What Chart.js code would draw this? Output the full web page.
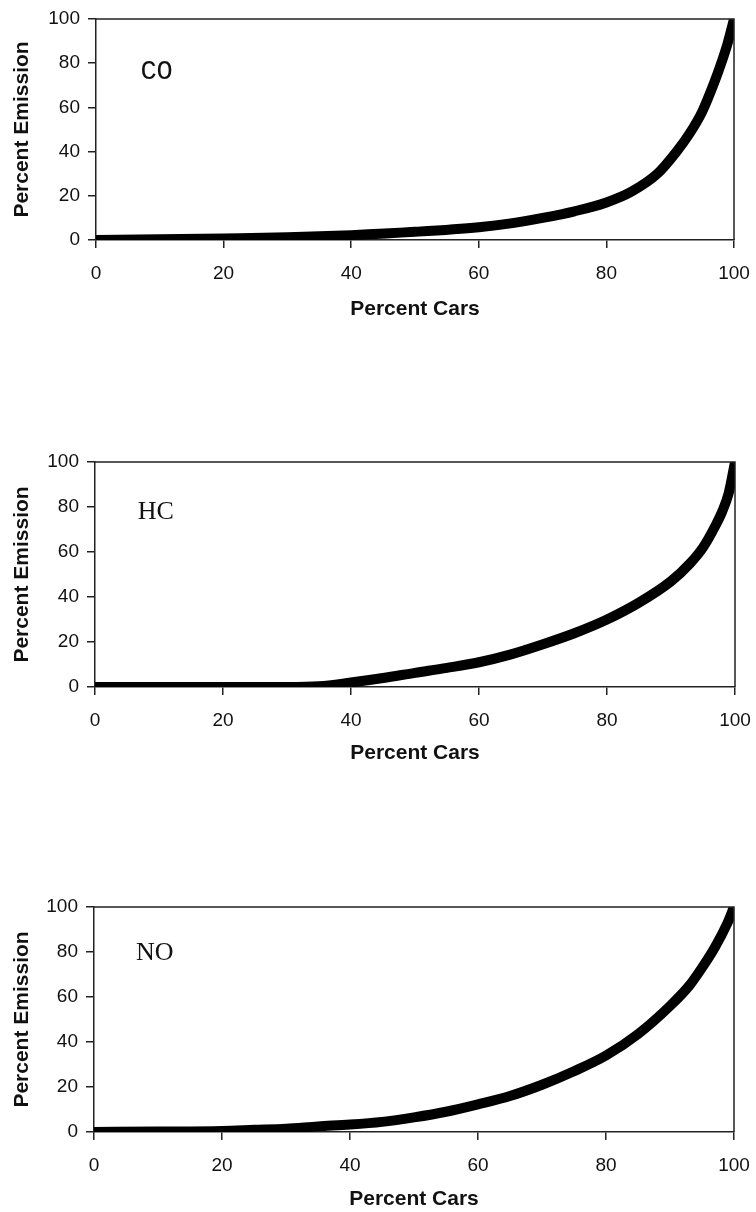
<!DOCTYPE html>
<html>
<head>
<meta charset="utf-8">
<script src="https://cdn.jsdelivr.net/npm/chart.js@4"></script>
<style>
  body { margin: 0; background: #fff; }
  .panel { position: absolute; left: 0; width: 756px; }
</style>
</head>
<body>
<div class="panel" style="top:0px;height:322px"><canvas id="chartCO"></canvas></div>
<div class="panel" style="top:440px;height:326px"><canvas id="chartHC"></canvas></div>
<div class="panel" style="top:886px;height:326px"><canvas id="chartNO"></canvas></div>
<script>
// axes
const tickValues = [0, 20, 40, 60, 80, 100];

// CO : pourcentage cumulé des émissions
const coCars = [0, 10, 20, 30, 40, 50, 60, 65, 70, 75, 80, 84, 88, 91, 93, 95, 97, 98, 99, 100];
const coEmission = [0, 0.3, 0.7, 1.2, 2.2, 3.7, 5.8, 7.5, 10, 13, 17, 22, 30, 40, 48, 58, 72, 80, 89, 100];

// HC
const hcCars = [0, 10, 20, 30, 35, 40, 45, 50, 55, 60, 65, 70, 75, 80, 85, 90, 93, 95, 97, 98, 99, 100];
const hcEmission = [0, 0, 0, 0, 0.3, 2, 4, 6.3, 8.5, 11, 14.5, 19, 24, 30, 37.5, 47, 55, 62, 72, 78, 86, 100];

// NO
const noCars = [0, 10, 20, 25, 30, 35, 40, 45, 50, 55, 60, 65, 70, 75, 80, 85, 90, 93, 95, 97, 99, 100];
const noEmission = [0, 0.2, 0.5, 1, 1.5, 2.5, 3.3, 4.5, 6.5, 9, 12.3, 16, 21, 27, 34, 43.5, 56, 65, 73, 82, 93, 100];

// cadre haut + droite et étiquette du polluant
const framePlugin = {
    id: 'frame',
    afterDraw(chart, args, opts) {
        const ctx = chart.ctx;
        const a = chart.chartArea;
        ctx.save();
        ctx.strokeStyle = '#222';
        ctx.lineWidth = 1.5;
        ctx.beginPath();
        ctx.moveTo(a.left, a.top);
        ctx.lineTo(a.right, a.top);
        ctx.lineTo(a.right, a.bottom);
        ctx.stroke();
        ctx.fillStyle = '#111';
        ctx.font = opts.font;
        ctx.textAlign = 'center';
        ctx.textBaseline = 'middle';
        ctx.fillText(opts.text, chart.scales.x.getPixelForValue(opts.x), chart.scales.y.getPixelForValue(opts.y));
        ctx.restore();
    }
};

function makeChart(id, cars, emission, gas, gasFont, gasY, pad, yWidth, xHeight) {
    const points = cars.map((c, i) => ({ x: c, y: emission[i] }));
    return new Chart(document.getElementById(id), {
        type: 'line',
        data: {
            datasets: [{
                data: points,
                borderColor: '#000',
                borderWidth: 10,
                cubicInterpolationMode: 'monotone',
                pointRadius: 0,
                fill: false
            }]
        },
        options: {
            responsive: true,
            maintainAspectRatio: false,
            animation: false,
            layout: { padding: { top: pad.top, right: pad.right, left: 0, bottom: 0 } },
            plugins: {
                legend: { display: false },
                tooltip: { enabled: false },
                frame: { text: gas, font: gasFont, x: 9.5, y: gasY }
            },
            scales: {
                x: {
                    type: 'linear',
                    min: 0,
                    max: 100,
                    afterFit: (s) => {
                        s.height = xHeight;
                        s.paddingLeft = 0;
                        s.paddingRight = 0;
                    },
                    afterBuildTicks: (s) => { s.ticks = tickValues.map(v => ({ value: v })); },
                    grid: { drawOnChartArea: false, drawTicks: true, tickLength: 8, color: '#222', lineWidth: 1.5 },
                    border: { color: '#222', width: 1.5 },
                    ticks: { color: '#111', font: { family: 'Liberation Sans', size: 19 }, padding: 14, maxRotation: 0 },
                    title: {
                        display: true,
                        text: 'Percent Cars',
                        color: '#111',
                        font: { family: 'Liberation Sans', size: 21, weight: 'bold' },
                        padding: { top: 0, bottom: 0 }
                    }
                },
                y: {
                    type: 'linear',
                    min: 0,
                    max: 100,
                    afterFit: (s) => {
                        s.width = yWidth;
                        s.paddingTop = 0;
                        s.paddingBottom = 0;
                    },
                    afterBuildTicks: (s) => { s.ticks = tickValues.map(v => ({ value: v })); },
                    grid: { drawOnChartArea: false, drawTicks: true, tickLength: 8, color: '#222', lineWidth: 1.5 },
                    border: { color: '#222', width: 1.5 },
                    ticks: { color: '#111', font: { family: 'Liberation Sans', size: 19 }, padding: 8 },
                    title: {
                        display: true,
                        text: 'Percent Emission',
                        color: '#111',
                        font: { family: 'Liberation Sans', size: 21, weight: 'bold' },
                        padding: { top: 10, bottom: 0 }
                    }
                }
            }
        },
        plugins: [framePlugin]
    });
}

makeChart('chartCO', coCars, coEmission, 'CO', '27px "Liberation Mono"', 76, { top: 19, right: 22 }, 96, 82);
makeChart('chartHC', hcCars, hcEmission, 'HC', '26px "Liberation Serif"', 77.6, { top: 22, right: 21 }, 95, 79);
makeChart('chartNO', noCars, noEmission, 'NO', '26px "Liberation Serif"', 79.4, { top: 21, right: 22 }, 94, 80);
</script>
</body>
</html>
